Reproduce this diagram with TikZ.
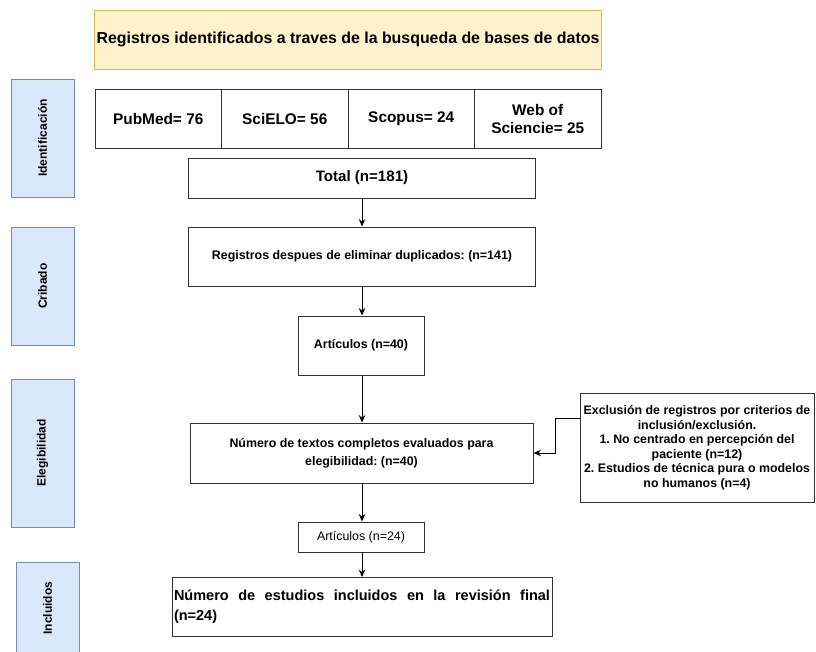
\documentclass[tikz,border=0pt]{standalone}
\usepackage{fontspec}
\setmainfont{Liberation Sans}
\usetikzlibrary{arrows.meta,calc}
\definecolor{sidefill}{HTML}{DAE8FC}
\definecolor{sideline}{HTML}{6C8EBF}
\definecolor{topfill}{HTML}{FFF2CC}
\definecolor{topline}{HTML}{D6B656}
\definecolor{boxline}{HTML}{333333}
\tikzset{
  box/.style={draw=boxline, line width=1pt, fill=white, inner sep=2pt, align=center, font=\bfseries\fontsize{12.4}{14.5}\selectfont},
  side/.style={draw=sideline, fill=sidefill, line width=0.8pt, inner sep=0pt},
  sidelabel/.style={rotate=90, font=\bfseries\fontsize{12}{14}\selectfont},
  arr/.style={draw=black, line width=1pt, -{Stealth[length=7.5pt,width=6.5pt,inset=2.5pt]}}
}
\begin{document}
\frenchspacing
\begin{tikzpicture}[x=1pt,y=-1pt]
\useasboundingbox (0,0) rectangle (816,651);
% side phase boxes
\node[side, minimum width=63pt, minimum height=118pt] (sid) at (42.5,138) {};
\node[sidelabel] at (sid.center) {Identificación};
\node[side, minimum width=63pt, minimum height=118pt] (scr) at (42.5,286) {};
\node[sidelabel] at (scr.center) {Cribado};
\node[side, minimum width=63pt, minimum height=148pt] (sel) at (42.5,453) {};
\node[sidelabel] at (sel.center) {Elegibilidad};
\node[side, minimum width=63pt, minimum height=92pt] (sinc) at (47.5,608) {};
\node[sidelabel] at (sinc.center) {Incluidos};
% top title
\node[box, draw=topline, fill=topfill, line width=0.8pt, minimum width=506pt, minimum height=59pt, font=\bfseries\fontsize{15.9}{18}\selectfont] (title) at (348,39.5) {Registros identificados a traves de la busqueda de bases de datos};
% databases
\node[box, minimum width=126.5pt, minimum height=59pt, font=\bfseries\fontsize{15.4}{18}\selectfont] (pub) at (158.25,118.5) {PubMed= 76};
\node[box, minimum width=126.5pt, minimum height=59pt, font=\bfseries\fontsize{15.4}{18}\selectfont] (sci) at (284.75,118.5) {SciELO= 56};
\node[box, minimum width=126.5pt, minimum height=59pt, font=\bfseries\fontsize{15.4}{18}\selectfont] (sco) at (411.25,118.5) {Scopus= 24};
\node[box, minimum width=126.5pt, minimum height=59pt, font=\bfseries\fontsize{15.4}{18}\selectfont] (wos) at (537.75,118.5) {Web of\\Sciencie= 25};
% flow
\node[box, minimum width=347pt, minimum height=40pt, font=\bfseries\fontsize{15.1}{18}\selectfont] (total) at (362,178) {Total (n=181)};
\node[box, minimum width=347pt, minimum height=59pt] (dup) at (362,256.5) {Registros despues de eliminar duplicados: (n=141)};
\node[box, minimum width=126pt, minimum height=59pt] (art40) at (361,345.5) {Artículos (n=40)};
\node[box, minimum width=343pt, minimum height=60pt, font=\bfseries\fontsize{12.4}{18}\selectfont] (num) at (361.5,453) {Número de textos completos evaluados para\\elegibilidad: (n=40)};
\node[box, minimum width=234pt, minimum height=109pt, inner sep=1pt] (excl) at (697,447.5) {Exclusión de registros por criterios de\\inclusión/exclusión.\\1. No centrado en percepción del\\paciente (n=12)\\2. Estudios de técnica pura o modelos\\no humanos (n=4)};
\node[box, minimum width=126pt, minimum height=30pt, font=\fontsize{12.4}{14}\selectfont] (art24) at (361,537) {Artículos (n=24)};
\node[box, minimum width=380pt, minimum height=59pt, align=left, inner sep=1pt, font=\bfseries\fontsize{14.5}{20}\selectfont] (final) at (362,607) {\makebox[376pt][s]{Número de estudios incluidos en la revisión final}\\(n=24)};
% connectors
\draw[arr] (total.south -| 362,0) -- (dup.north -| 362,0);
\draw[arr] (dup.south -| 362,0) -- (art40.north -| 362,0);
\draw[arr] (art40.south -| 362,0) -- (num.north -| 362,0);
\draw[arr] (num.south -| 362,0) -- (art24.north -| 362,0);
\draw[arr] (art24.south -| 362,0) -- (final.north -| 362,0);
\coordinate (exin) at ($(excl.north west)+(0,26)$);
\draw[arr] (exin) -- ++(-24,0) |- (num.east);
\end{tikzpicture}
\end{document}
